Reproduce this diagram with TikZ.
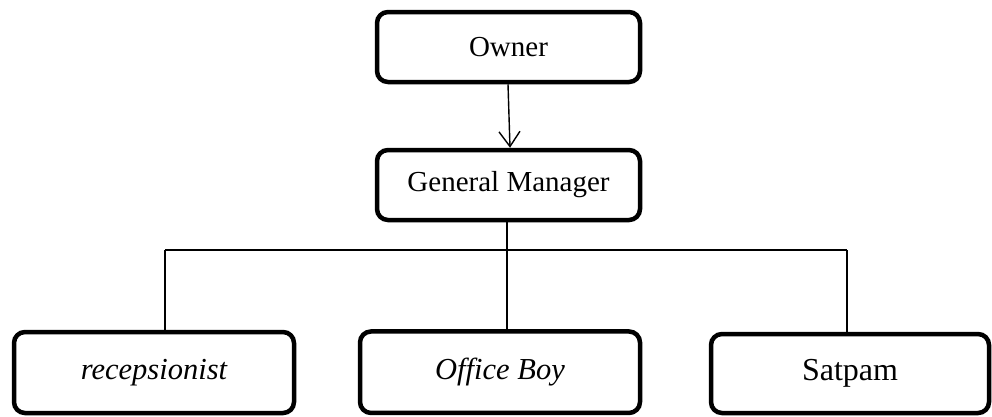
\documentclass[tikz,border=0pt]{standalone}
\usepackage{fontspec}
\setmainfont{Liberation Serif}
\usetikzlibrary{arrows.meta}
\begin{document}
\begin{tikzpicture}[x=1pt,y=-1pt,
  box/.style={draw=black, line width=4.5pt, rounded corners=11pt, inner sep=0pt, fill=white},
  conn/.style={draw=black, line width=1.4pt},
  toplbl/.style={font=\fontsize{29}{34}\selectfont},
  botlbl/.style={font=\fontsize{30.5}{36}\selectfont}]
\useasboundingbox (0,0) rectangle (992,416);
\node[box, toplbl, minimum width=263pt, minimum height=70pt] (own) at (508.5,47) {Owner};
\node[box, toplbl, minimum width=263pt, minimum height=70pt] (gm) at (508.5,185) {General Manager};
\node[box, botlbl, minimum width=280pt, minimum height=81pt] (rec) at (154,372.5) {\itshape recepsionist};
\node[box, botlbl, minimum width=280pt, minimum height=81.5pt] (ob) at (500,372.2) {\itshape Office Boy};
\node[box, botlbl, font=\fontsize{32}{38}\selectfont, minimum width=278pt, minimum height=79pt] (sat) at (850,373.5) {Satpam};
\coordinate (busL) at (165,250);
\coordinate (busM) at (507,250);
\coordinate (busR) at (847,250);
\draw[conn, -{Straight Barb[length=15pt,width=21pt,line width=1.4pt]}] (own.south -| 508,0) -- (gm.north -| 510,0);
\draw[conn] (busL) -- (busR);
\draw[conn] (gm.south -| busM) -- (ob.north -| busM);
\draw[conn] (busL) -- (rec.north -| busL);
\draw[conn] (busR) -- (sat.north -| busR);
\end{tikzpicture}
\end{document}
